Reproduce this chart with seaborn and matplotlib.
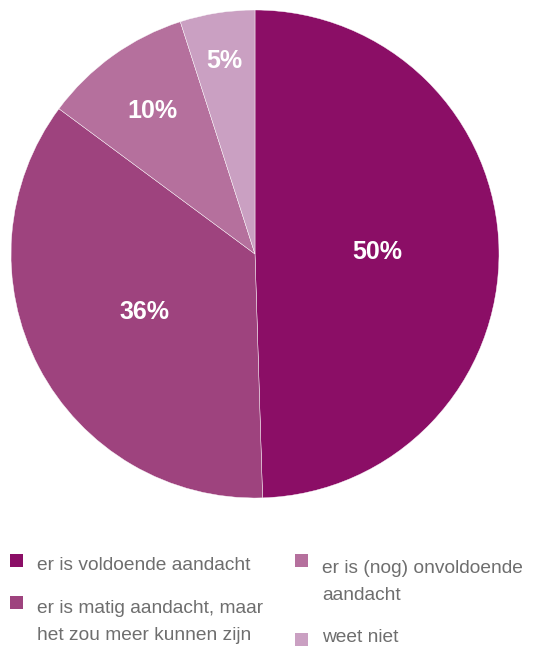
import matplotlib
matplotlib.use("Agg")
import matplotlib.pyplot as plt
from matplotlib.patches import Rectangle
import numpy as np
import seaborn as sns

# data
categories = [
    "er is voldoende aandacht",
    "er is matig aandacht, maar\nhet zou meer kunnen zijn",
    "er is (nog) onvoldoende\naandacht",
    "weet niet",
]
shares = [50, 36, 10, 5]
pct_labels = ["50%", "36%", "10%", "5%"]

colors = sns.color_palette(["#8B0E66", "#9E437E", "#B5709D", "#CAA0C2"])

sns.set_theme(style="white")
plt.rcParams["font.family"] = ["Liberation Sans", "DejaVu Sans"]

W, H = 554, 648
fig = plt.figure(figsize=(W / 100, H / 100), dpi=100)

def fx(x):
    return x / W

def fy(y):
    return 1 - y / H

# pie: centre (255, 254), radius 244 px
cx, cy, r = 255, 254, 244
ax = fig.add_axes([fx(cx - r), fy(cy + r), 2 * r / W, 2 * r / H])
wedges, _ = ax.pie(shares, colors=colors, startangle=90, counterclock=False,
                   wedgeprops=dict(edgecolor="white", linewidth=0.3))
ax.set_xlim(-1, 1)
ax.set_ylim(-1, 1)
ax.axis("off")

# percentage labels, distance from centre per wedge
label_r = [0.5, 0.51, 0.72, 0.8]
for w, txt, d in zip(wedges, pct_labels, label_r):
    ang = np.deg2rad((w.theta1 + w.theta2) / 2)
    ax.text(d * np.cos(ang), d * np.sin(ang), txt, ha="center", va="center",
            color="white", fontsize=18, fontweight="bold")

# legend drawn by hand so rows line up like the original
leg_pos = [
    (10, 554, 37, 570),   # marker x, marker top y, text x, last baseline y
    (10, 596, 37, 640),
    (295, 554, 322, 600),
    (295, 633, 322, 642),
]
for (mx, my, tx, ty), lab, c in zip(leg_pos, categories, colors):
    fig.add_artist(Rectangle((fx(mx), fy(my + 13)), 13 / W, 13 / H,
                             transform=fig.transFigure, color=c, lw=0))
    fig.text(fx(tx), fy(ty), lab, ha="left", va="baseline", color="#6e6e6e",
             fontsize=13.8, linespacing=1.75)

plt.savefig("out.png", dpi=100)
plt.close()
